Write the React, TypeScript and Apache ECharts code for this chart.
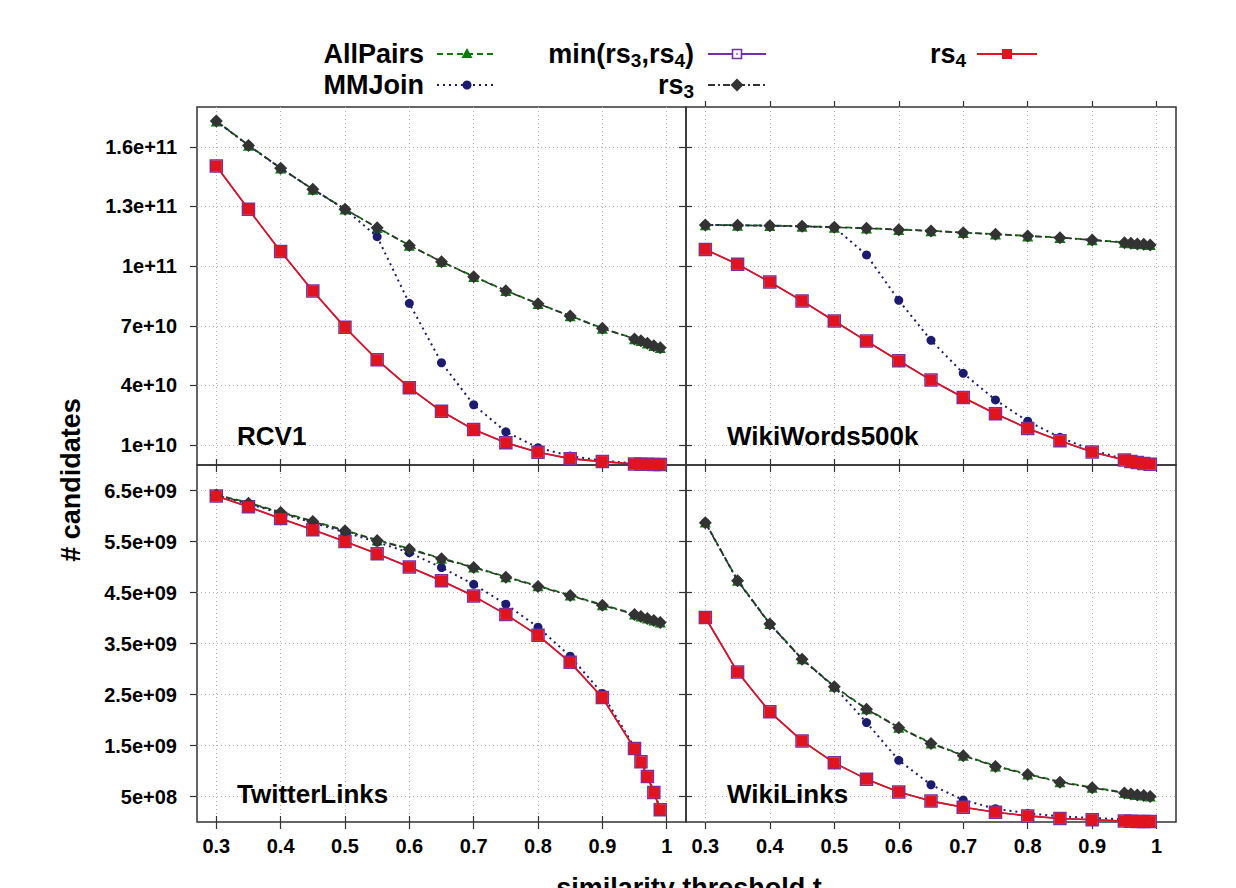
import React, { useEffect, useRef } from 'react';
import * as echarts from 'echarts';

// ---------------- data ----------------
const UNIT = 1e9; // all series values below are in units of 1e9 candidates

const thresholds = [0.3, 0.35, 0.4, 0.45, 0.5, 0.55, 0.6, 0.65, 0.7, 0.75, 0.8, 0.85, 0.9, 0.95, 0.96, 0.97, 0.98, 0.99];

const xTickValues = [0.3, 0.4, 0.5, 0.6, 0.7, 0.8, 0.9, 1];
const topTickValues = [1e10, 4e10, 7e10, 1e11, 1.3e11, 1.6e11];
const bottomTickValues = [5e8, 1.5e9, 2.5e9, 3.5e9, 4.5e9, 5.5e9, 6.5e9];

const panelNames = ['RCV1', 'WikiWords500k', 'TwitterLinks', 'WikiLinks'];
const seriesNames = ['AllPairs', 'MMJoin', 'min(rs3,rs4)', 'rs3', 'rs4'];

// RCV1
const rcv1Rs3 = [172.9, 160.7, 149.2, 138.6, 128.6, 119.3, 110.4, 102.2, 94.7, 87.6, 81.1, 74.9, 68.7, 63.4, 62.5, 61.2, 60.0, 59.0];
const rcv1AllPairs = [173.0, 160.8, 149.3, 138.7, 128.7, 119.4, 110.5, 102.3, 94.8, 87.7, 81.2, 75.0, 68.8, 63.5, 62.6, 61.3, 60.1, 59.1];
const rcv1MMJoin = [172.9, 160.7, 149.2, 138.6, 128.6, 114.8, 81.3, 51.4, 30.3, 16.7, 8.7, 4.5, 2.2, 0.8, 0.7, 0.6, 0.5, 0.4];
const rcv1Rs4 = [150.3, 128.6, 107.4, 87.5, 69.2, 52.9, 38.9, 27.0, 17.8, 11.2, 6.4, 3.2, 1.7, 0.5, 0.4, 0.35, 0.3, 0.25];
const rcv1Min = [150.3, 128.6, 107.4, 87.5, 69.2, 52.9, 38.9, 27.0, 17.8, 11.2, 6.4, 3.2, 1.7, 0.5, 0.4, 0.35, 0.3, 0.25];

// WikiWords500k
const wwRs3 = [120.7, 120.5, 120.3, 120.0, 119.5, 119.0, 118.3, 117.7, 116.8, 116.0, 115.1, 114.3, 113.1, 111.8, 111.5, 111.1, 111.0, 110.6];
const wwAllPairs = [120.8, 120.6, 120.4, 120.1, 119.6, 119.1, 118.4, 117.8, 116.9, 116.1, 115.2, 114.4, 113.2, 112.0, 111.7, 111.4, 111.2, 110.9];
const wwMMJoin = [120.7, 120.5, 120.3, 120.0, 119.5, 105.6, 82.8, 62.7, 46.1, 32.7, 22.0, 13.9, 7.5, 2.9, 2.4, 1.9, 1.4, 1.0];
const wwRs4 = [108.4, 100.9, 92.0, 82.5, 72.4, 62.3, 52.4, 42.7, 33.9, 25.8, 18.4, 12.2, 6.5, 2.5, 1.7, 1.2, 0.8, 0.4];
const wwMin = [108.4, 100.9, 92.0, 82.5, 72.4, 62.3, 52.4, 42.7, 33.9, 25.8, 18.4, 12.2, 6.5, 2.5, 1.7, 1.2, 0.8, 0.4];

// TwitterLinks
const twRs3 = [6.41, 6.25, 6.07, 5.89, 5.71, 5.52, 5.35, 5.16, 4.99, 4.80, 4.62, 4.44, 4.25, 4.07, 4.03, 3.99, 3.95, 3.91];
const twAllPairs = [6.42, 6.26, 6.08, 5.90, 5.72, 5.53, 5.36, 5.17, 5.00, 4.81, 4.63, 4.45, 4.26, 4.08, 4.04, 4.00, 3.96, 3.92];
const twMMJoin = [6.40, 6.24, 6.05, 5.87, 5.68, 5.49, 5.28, 4.99, 4.66, 4.27, 3.82, 3.25, 2.52, 1.46, 1.21, 0.91, 0.60, 0.26];
const twRs4 = [6.39, 6.18, 5.95, 5.73, 5.50, 5.26, 5.00, 4.73, 4.43, 4.07, 3.66, 3.13, 2.44, 1.44, 1.18, 0.89, 0.58, 0.24];
const twMin = [6.39, 6.18, 5.95, 5.73, 5.50, 5.26, 5.00, 4.73, 4.43, 4.07, 3.66, 3.13, 2.44, 1.44, 1.18, 0.89, 0.58, 0.24];

// WikiLinks
const wlRs3 = [5.87, 4.73, 3.88, 3.19, 2.65, 2.21, 1.85, 1.54, 1.30, 1.09, 0.93, 0.78, 0.67, 0.57, 0.55, 0.53, 0.52, 0.50];
const wlAllPairs = [5.88, 4.74, 3.89, 3.20, 2.66, 2.22, 1.86, 1.55, 1.31, 1.10, 0.94, 0.79, 0.68, 0.58, 0.56, 0.54, 0.53, 0.51];
const wlMMJoin = [5.87, 4.73, 3.88, 3.19, 2.65, 1.95, 1.21, 0.73, 0.43, 0.26, 0.17, 0.11, 0.08, 0.05, 0.045, 0.04, 0.035, 0.03];
const wlRs4 = [4.01, 2.94, 2.16, 1.59, 1.16, 0.84, 0.59, 0.41, 0.29, 0.19, 0.12, 0.07, 0.045, 0.02, 0.015, 0.012, 0.01, 0.008];
const wlMin = [4.01, 2.94, 2.16, 1.59, 1.16, 0.84, 0.59, 0.41, 0.29, 0.19, 0.12, 0.07, 0.045, 0.02, 0.015, 0.012, 0.01, 0.008];

const panelSeries = [
  [rcv1AllPairs, rcv1MMJoin, rcv1Min, rcv1Rs3, rcv1Rs4],
  [wwAllPairs, wwMMJoin, wwMin, wwRs3, wwRs4],
  [twAllPairs, twMMJoin, twMin, twRs3, twRs4],
  [wlAllPairs, wlMMJoin, wlMin, wlRs3, wlRs4],
];

// ---------------- styles ----------------
const FONT = "'Liberation Sans', Arial, Helvetica, sans-serif";
const GREEN = '#0b7a0b';
const NAVY = '#1b1b6f';
const PURPLE = '#7530a8';
const DARK = '#333333';
const RED = '#e0141e';

const seriesStyles: any[] = [
  { color: GREEN, dash: [6, 4], width: 1.8, symbol: 'triangle', size: 11, fill: GREEN },
  { color: NAVY, dash: [2, 4], width: 2, symbol: 'circle', size: 9, fill: NAVY },
  { color: PURPLE, dash: 'solid', width: 1.6, symbol: 'rect', size: 12, fill: '#ffffff', border: PURPLE },
  { color: DARK, dash: [7, 3, 2, 3], width: 1.6, symbol: 'diamond', size: 13, fill: DARK },
  { color: RED, dash: 'solid', width: 1.6, symbol: 'rect', size: 11, fill: RED },
];

// layout
const GL = 197, GM = 686, GR = 1176, GT = 107, GMID = 465, GB = 822;
const XMIN = 0.27, XMAX = 1.03;

function fmtY(v: number) {
  if (v === 0) return '0';
  const e = Math.floor(Math.log10(v) + 1e-9);
  const m = +(v / Math.pow(10, e)).toFixed(1);
  return `${m}e+${String(e).padStart(2, '0')}`;
}
function fmtX(v: number) {
  return String(+v.toFixed(2));
}

function measure(text: string, size: number) {
  const c = document.createElement('canvas').getContext('2d') as CanvasRenderingContext2D;
  c.font = `bold ${size}px ${FONT}`;
  return c.measureText(text).width;
}

export default function App() {
  const ref = useRef<HTMLDivElement>(null);

  useEffect(() => {
    if (!ref.current) return;
    const chart = echarts.init(ref.current, undefined, { renderer: 'svg' });

    const grids = [
      { left: GL, top: GT, width: GM - GL, height: GMID - GT },
      { left: GM, top: GT, width: GR - GM, height: GMID - GT },
      { left: GL, top: GMID, width: GM - GL, height: GB - GMID },
      { left: GM, top: GMID, width: GR - GM, height: GB - GMID },
    ].map((g) => ({ ...g, show: true, borderColor: DARK, borderWidth: 1.5, backgroundColor: 'transparent' }));

    const tickStyle = { color: DARK, width: 1.2 };
    const gridLine = { show: true, lineStyle: { color: '#b0b0b0', width: 1, type: [1, 3] } };
    const labelStyle = { color: '#000', fontWeight: 'bold', fontSize: 20, fontFamily: FONT };

    const xAxes: any[] = [];
    for (let i = 0; i < 4; i++) {
      xAxes.push({
        type: 'value', gridIndex: i, min: XMIN, max: XMAX, position: 'bottom',
        axisLine: { show: false },
        axisTick: { show: true, inside: false, length: 7, customValues: xTickValues, lineStyle: tickStyle },
        axisLabel: { show: i >= 2, customValues: xTickValues, formatter: fmtX, margin: 14, ...labelStyle },
        splitLine: gridLine,
      });
    }
    for (let i = 0; i < 4; i++) {
      xAxes.push({
        type: 'value', gridIndex: i, min: XMIN, max: XMAX, position: 'top',
        axisLine: { show: false },
        axisTick: { show: true, inside: false, length: 6, customValues: xTickValues, lineStyle: tickStyle },
        axisLabel: { show: false },
        splitLine: { show: false },
      });
    }
    const yAxes: any[] = [];
    for (let i = 0; i < 4; i++) {
      const top = i < 2;
      const ticks = top ? topTickValues : bottomTickValues;
      yAxes.push({
        type: 'value', gridIndex: i, min: 0, max: top ? 1.8e11 : 7e9, position: 'left',
        axisLine: { show: false },
        axisTick: { show: true, inside: false, length: 7, customValues: ticks, lineStyle: tickStyle },
        axisLabel: { show: i % 2 === 0, customValues: ticks, formatter: fmtY, margin: 20, ...labelStyle },
        splitLine: gridLine,
      });
    }
    for (const i of [0, 2]) {
      const top = i < 2;
      const ticks = top ? topTickValues : bottomTickValues;
      yAxes.push({
        type: 'value', gridIndex: i, min: 0, max: top ? 1.8e11 : 7e9, position: 'right',
        axisLine: { show: false },
        axisTick: { show: true, inside: false, length: 6, customValues: ticks, lineStyle: tickStyle },
        axisLabel: { show: false },
        splitLine: { show: false },
      });
    }

    const series: any[] = [];
    panelSeries.forEach((list, pi) => {
      list.forEach((vals, si) => {
        const st = seriesStyles[si];
        series.push({
          name: `${panelNames[pi]} ${seriesNames[si]}`,
          type: 'line',
          xAxisIndex: pi,
          yAxisIndex: pi,
          data: thresholds.map((x, j) => [x, vals[j] * UNIT]),
          symbol: st.symbol,
          symbolSize: st.size,
          showSymbol: true,
          clip: false,
          silent: true,
          z: 3 + si,
          lineStyle: { color: st.color, width: st.width, type: st.dash },
          itemStyle: { color: st.fill, borderColor: st.border || st.fill, borderWidth: st.border ? 1.5 : 0, opacity: 1 },
          emphasis: { disabled: true },
        });
      });
    });

    // -------- custom legend (text with subscripts) --------
    const graphics: any[] = [];
    const MAIN = 27, SUB = 19, SUBDY = 6.5;
    const addLabel = (pieces: { t: string; sub?: boolean }[], right: number, y: number) => {
      const widths = pieces.map((p) => measure(p.t, p.sub ? SUB : MAIN));
      const total = widths.reduce((a, b) => a + b, 0);
      let x = right - total;
      pieces.forEach((p, k) => {
        graphics.push({
          type: 'text', x, y: p.sub ? y + SUBDY : y, silent: true,
          style: {
            text: p.t, fill: '#000', fontWeight: 'bold', fontSize: p.sub ? SUB : MAIN, fontFamily: FONT,
            align: 'left', verticalAlign: 'middle',
          },
        });
        x += widths[k];
      });
    };
    const addSample = (si: number, x1: number, x2: number, y: number) => {
      const st = seriesStyles[si];
      graphics.push({
        type: 'line', silent: true, shape: { x1, y1: y, x2, y2: y },
        style: { stroke: st.color, lineWidth: 2, lineDash: st.dash === 'solid' ? null : st.dash },
      });
      const cx = (x1 + x2) / 2;
      if (si === 0) {
        graphics.push({ type: 'polygon', silent: true, shape: { points: [[cx, y - 6], [cx + 5.5, y + 4], [cx - 5.5, y + 4]] }, style: { fill: GREEN } });
      } else if (si === 1) {
        graphics.push({ type: 'circle', silent: true, shape: { cx, cy: y, r: 4.5 }, style: { fill: NAVY } });
      } else if (si === 2) {
        graphics.push({ type: 'rect', silent: true, shape: { x: cx - 4.5, y: y - 4.5, width: 9, height: 9 }, style: { fill: '#fff', stroke: PURPLE, lineWidth: 1.6 } });
        graphics.push({ type: 'rect', silent: true, shape: { x: cx - 0.75, y: y - 0.75, width: 1.5, height: 1.5 }, style: { fill: PURPLE } });
      } else if (si === 3) {
        graphics.push({ type: 'polygon', silent: true, shape: { points: [[cx, y - 6.5], [cx + 6.5, y], [cx, y + 6.5], [cx - 6.5, y]] }, style: { fill: DARK } });
      } else {
        graphics.push({ type: 'rect', silent: true, shape: { x: cx - 5, y: y - 5, width: 10, height: 10 }, style: { fill: RED } });
      }
    };
    const ROW1 = 54, ROW2 = 85;
    addLabel([{ t: 'AllPairs' }], 424, ROW1);
    addSample(0, 437, 497, ROW1);
    addLabel([{ t: 'MMJoin' }], 424, ROW2);
    addSample(1, 437, 497, ROW2);
    addLabel([{ t: 'min(rs' }, { t: '3', sub: true }, { t: ',rs' }, { t: '4', sub: true }, { t: ')' }], 694, ROW1);
    addSample(2, 708, 766, ROW1);
    addLabel([{ t: 'rs' }, { t: '3', sub: true }], 694, ROW2);
    addSample(3, 708, 766, ROW2);
    addLabel([{ t: 'rs' }, { t: '4', sub: true }], 966, ROW1);
    addSample(4, 977, 1037, ROW1);

    // panel names
    const panelPos = [[237, 436], [727, 436], [237, 794], [727, 794]];
    panelNames.forEach((n, i) => {
      graphics.push({
        type: 'text', x: panelPos[i][0], y: panelPos[i][1], silent: true, z: 20,
        style: { text: n, fill: '#000', fontWeight: 'bold', fontSize: 26, fontFamily: FONT, align: 'left', verticalAlign: 'middle' },
      });
    });
    // axis titles
    graphics.push({
      type: 'text', x: 71, y: 480, rotation: Math.PI / 2, silent: true,
      style: { text: '# candidates', fill: '#000', fontWeight: 'bold', fontSize: 27, fontFamily: FONT, align: 'center', verticalAlign: 'middle' },
    });
    graphics.push({
      type: 'text', x: 689, y: 888, silent: true,
      style: { text: 'similarity threshold t', fill: '#000', fontWeight: 'bold', fontSize: 27, fontFamily: FONT, align: 'center', verticalAlign: 'middle' },
    });

    chart.setOption({
      animation: false,
      backgroundColor: '#ffffff',
      grid: grids,
      xAxis: xAxes,
      yAxis: yAxes,
      series,
      graphic: graphics,
    });

    return () => chart.dispose();
  }, []);

  return <div ref={ref} style={{ position: 'absolute', left: 0, top: 0, width: 1236, height: 888, background: '#fff' }} />;
}
